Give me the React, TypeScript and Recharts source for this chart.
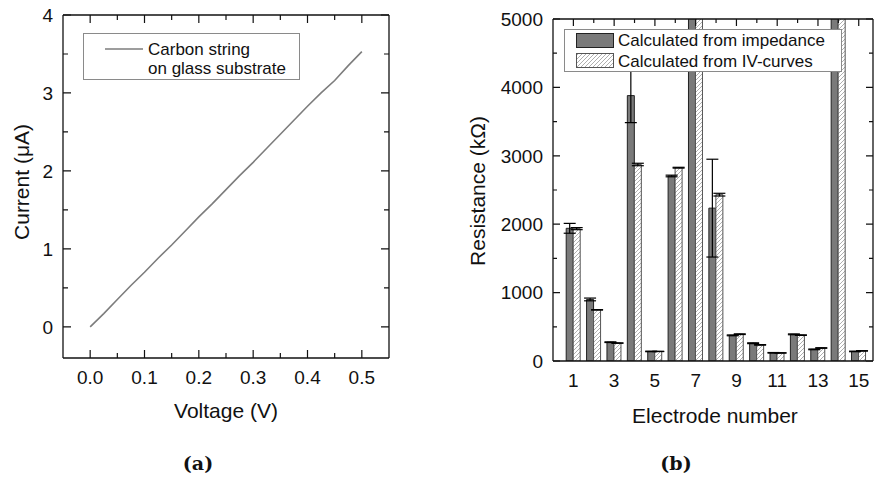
import React from 'react';
import { LineChart, Line, XAxis, YAxis, BarChart, Bar, ErrorBar, ReferenceLine } from 'recharts';

const SANS = '"Liberation Sans", Arial, Helvetica, sans-serif';
const SERIF = '"DejaVu Serif", "Liberation Serif", serif';
const INK = '#111';

// (a) I–V sweep of the carbon string
const voltage = [0, 0.025, 0.05, 0.075, 0.1, 0.125, 0.15, 0.175, 0.2, 0.225, 0.25, 0.275, 0.3, 0.325, 0.35, 0.375, 0.4, 0.425, 0.45, 0.475, 0.5];
const current = [0, 0.17, 0.35, 0.53, 0.7, 0.88, 1.05, 1.23, 1.41, 1.58, 1.76, 1.94, 2.11, 2.29, 2.47, 2.65, 2.83, 3.0, 3.16, 3.35, 3.53];

const voltageMajor = [0, 0.1, 0.2, 0.3, 0.4, 0.5];
const voltageMinor = [0.05, 0.15, 0.25, 0.35, 0.45];
const currentMajor = [0, 1, 2, 3, 4];
const currentMinor = [0.5, 1.5, 2.5, 3.5];

// (b) resistance per electrode (kΩ)
const electrodes = [1, 2, 3, 4, 5, 6, 7, 8, 9, 10, 11, 12, 13, 14, 15];
const fromImpedance = [1940, 900, 275, 3880, 140, 2705, 6000, 2235, 375, 260, 120, 390, 170, 6000, 140];
const fromImpedanceErr = [72, 20, 5, 395, 4, 12, 0, 715, 6, 6, 4, 6, 5, 0, 4];
const fromIV = [1935, 748, 262, 2873, 140, 2826, 6000, 2432, 392, 236, 118, 378, 190, 6000, 148];
const fromIVErr = [15, 3, 3, 18, 2, 6, 0, 20, 5, 4, 3, 4, 4, 0, 3];

const electrodeMajor = [1, 3, 5, 7, 9, 11, 13, 15];
const electrodeMinor = [2, 4, 6, 8, 10, 12, 14];
const resistanceMajor = [0, 1000, 2000, 3000, 4000, 5000];
const resistanceMinor = [500, 1500, 2500, 3500, 4500];

const ivRows = voltage.map((v, k) => ({ v, i: current[k] }));
const resistanceRows = electrodes.map((e, k) => ({
  e,
  imp: fromImpedance[k],
  impErr: fromImpedanceErr[k],
  iv: fromIV[k],
  ivErr: fromIVErr[k],
}));

const frameStroke = { stroke: INK, strokeWidth: 1.3 };
const THIN = 0.01;

function bottomLabel(fmt: (v: number) => string, offset: number) {
  return (props: any) => (
    <text x={props.x} y={props.y + offset} textAnchor="middle" fontFamily={SANS} fontSize={19} fill={INK}>
      {fmt(Number(props.payload.value))}
    </text>
  );
}
function leftLabel(fmt: (v: number) => string, offset: number) {
  return (props: any) => (
    <text x={props.x - offset} y={props.y + 6.8} textAnchor="end" fontFamily={SANS} fontSize={19} fill={INK}>
      {fmt(Number(props.payload.value))}
    </text>
  );
}

// Inward tick marks drawn at the two ends of a reference line spanning the plot.
function xTicks(len: number, bottom: boolean) {
  return (p: any) => {
    const x = Number(p.x1);
    const yTop = Math.min(Number(p.y1), Number(p.y2));
    const yBot = Math.max(Number(p.y1), Number(p.y2));
    const d = `M${x},${yTop}L${x},${yTop + len}` + (bottom ? `M${x},${yBot}L${x},${yBot - len}` : '');
    return <path d={d} stroke={INK} strokeWidth={1.2} fill="none" />;
  };
}
function yTicks(len: number) {
  return (p: any) => {
    const y = Number(p.y1);
    const xL = Math.min(Number(p.x1), Number(p.x2));
    const xR = Math.max(Number(p.x1), Number(p.x2));
    const d = `M${xL},${y}L${xL + len},${y}M${xR},${y}L${xR - len},${y}`;
    return <path d={d} stroke={INK} strokeWidth={1.2} fill="none" />;
  };
}

function IVChart() {
  const xDom: [number, number] = [-0.05, 0.55];
  const yDom: [number, number] = [-0.4, 4];
  return (
    <LineChart width={420} height={480} data={ivRows} margin={{ top: 15, right: 31, bottom: 92, left: 23 }}>
      <XAxis xAxisId="b" dataKey="v" type="number" domain={xDom} ticks={voltageMajor} interval={0} height={30}
        tickSize={0} tickMargin={0} tickLine={false} axisLine={frameStroke} tick={bottomLabel((v) => v.toFixed(1), 26)} />
      <YAxis yAxisId="l" type="number" domain={yDom} ticks={currentMajor} interval={0} width={40}
        tickSize={0} tickMargin={0} tickLine={false} axisLine={frameStroke} tick={leftLabel((v) => String(v), 10)} />
      <XAxis xAxisId="t" mirror orientation="top" type="number" domain={xDom} height={THIN}
        tickLine={false} axisLine={frameStroke} tick={false} />
      <YAxis yAxisId="r" mirror orientation="right" type="number" domain={yDom} width={THIN}
        tickLine={false} axisLine={frameStroke} tick={false} />
      {voltageMajor.map((v) => (
        <ReferenceLine key={`vM${v}`} xAxisId="b" yAxisId="l" x={v} shape={xTicks(8, true)} />
      ))}
      {voltageMinor.map((v) => (
        <ReferenceLine key={`vm${v}`} xAxisId="b" yAxisId="l" x={v} shape={xTicks(5, true)} />
      ))}
      {currentMajor.map((v) => (
        <ReferenceLine key={`iM${v}`} xAxisId="b" yAxisId="l" y={v} shape={yTicks(8)} />
      ))}
      {currentMinor.map((v) => (
        <ReferenceLine key={`im${v}`} xAxisId="b" yAxisId="l" y={v} shape={yTicks(5)} />
      ))}
      <Line
        xAxisId="b"
        yAxisId="l"
        dataKey="i"
        type="linear"
        stroke="#7d7d7d"
        strokeWidth={1.6}
        dot={false}
        isAnimationActive={false}
      />
    </LineChart>
  );
}

function ResistanceChart() {
  const xDom: [number, number] = [0, 15.7];
  const yDom: [number, number] = [0, 5000];
  return (
    <BarChart
      width={434}
      height={480}
      data={resistanceRows}
      barSize={7}
      barGap={0}
      margin={{ top: 19, right: 1, bottom: 89, left: 73 }}
    >
      <XAxis xAxisId="b" dataKey="e" type="number" domain={xDom} ticks={electrodeMajor} interval={0} height={30}
        tickSize={0} tickMargin={0} tickLine={false} axisLine={frameStroke} tick={bottomLabel((v) => String(v), 26)} />
      <YAxis yAxisId="l" type="number" domain={yDom} allowDataOverflow ticks={resistanceMajor} interval={0} width={40}
        tickSize={0} tickMargin={0} tickLine={false} axisLine={frameStroke} tick={leftLabel((v) => String(v), 10)} />
      <XAxis xAxisId="t" mirror orientation="top" type="number" domain={xDom} height={THIN}
        tickLine={false} axisLine={frameStroke} tick={false} />
      <YAxis yAxisId="r" mirror orientation="right" type="number" domain={yDom} width={THIN}
        tickLine={false} axisLine={frameStroke} tick={false} />
      {electrodeMajor.map((v) => (
        <ReferenceLine key={`eM${v}`} xAxisId="b" yAxisId="l" x={v} shape={xTicks(7, false)} />
      ))}
      {electrodeMinor.map((v) => (
        <ReferenceLine key={`em${v}`} xAxisId="b" yAxisId="l" x={v} shape={xTicks(4, false)} />
      ))}
      {resistanceMajor.map((v) => (
        <ReferenceLine key={`rM${v}`} xAxisId="b" yAxisId="l" y={v} shape={yTicks(7)} />
      ))}
      {resistanceMinor.map((v) => (
        <ReferenceLine key={`rm${v}`} xAxisId="b" yAxisId="l" y={v} shape={yTicks(4)} />
      ))}
      <Bar xAxisId="b" yAxisId="l" dataKey="imp" fill="#7a7a7a" stroke="#222" strokeWidth={1} isAnimationActive={false}>
        <ErrorBar dataKey="impErr" width={6} stroke="#000" strokeWidth={1.2} direction="y" />
      </Bar>
      <Bar xAxisId="b" yAxisId="l" dataKey="iv" fill="url(#ivHatch)" stroke="#555" strokeWidth={1} isAnimationActive={false}>
        <ErrorBar dataKey="ivErr" width={6} stroke="#000" strokeWidth={1.2} direction="y" />
      </Bar>
    </BarChart>
  );
}

export default function App() {
  return (
    <div style={{ position: 'absolute', left: 0, top: 0, width: 874, height: 480, background: '#fff', overflow: 'hidden' }}>
      <svg width={0} height={0} style={{ position: 'absolute' }}>
        <defs>
          <pattern id="ivHatch" patternUnits="userSpaceOnUse" width={4} height={4}>
            <rect width={4} height={4} fill="#fff" />
            <path d="M-1,1 l2,-2 M0,4 l4,-4 M3,5 l2,-2" stroke="#9a9a9a" strokeWidth={0.8} />
          </pattern>
        </defs>
      </svg>

      <div style={{ position: 'absolute', left: 0, top: 0 }}>
        <IVChart />
      </div>
      <div style={{ position: 'absolute', left: 440, top: 0 }}>
        <ResistanceChart />
      </div>

      {/* legends, axis titles and panel captions */}
      <svg width={874} height={480} style={{ position: 'absolute', left: 0, top: 0, pointerEvents: 'none' }}>
        <rect x={83.5} y={33.5} width={216} height={46} fill="#fff" stroke="#8a8a8a" strokeWidth={1} />
        <line x1={105} y1={49} x2={143} y2={49} stroke="#7d7d7d" strokeWidth={1.6} />
        <text x={148} y={55} fontFamily={SANS} fontSize={17} fill={INK}>Carbon string</text>
        <text x={148} y={74} fontFamily={SANS} fontSize={17} fill={INK}>on glass substrate</text>

        <rect x={564.5} y={29.5} width={277} height={42} fill="#fff" stroke="#8a8a8a" strokeWidth={1} />
        <rect x={576.5} y={33.5} width={37} height={14} fill="#7a7a7a" stroke="#222" strokeWidth={1} />
        <rect x={576.5} y={53.5} width={37} height={14} fill="url(#ivHatch)" stroke="#555" strokeWidth={1} />
        <text x={618} y={46} fontFamily={SANS} fontSize={17} fill={INK}>Calculated from impedance</text>
        <text x={618} y={67} fontFamily={SANS} fontSize={17} fill={INK}>Calculated from IV-curves</text>

        <text x={226} y={418} textAnchor="middle" fontFamily={SANS} fontSize={21} fill={INK}>Voltage (V)</text>
        <g transform="translate(21,182) rotate(-90)">
          <text x={0} y={7.5} textAnchor="middle" fontFamily={SANS} fontSize={21} fill={INK}>Current (μA)</text>
        </g>
        <text x={715} y={423} textAnchor="middle" fontFamily={SANS} fontSize={21} fill={INK}>Electrode number</text>
        <g transform="translate(477,191) rotate(-90)">
          <text x={0} y={7.5} textAnchor="middle" fontFamily={SANS} fontSize={21} fill={INK}>Resistance (kΩ)</text>
        </g>
        <text x={198} y={470} textAnchor="middle" fontFamily={SERIF} fontWeight="bold" fontSize={19} fill={INK}>(a)</text>
        <text x={676} y={470} textAnchor="middle" fontFamily={SERIF} fontWeight="bold" fontSize={19} fill={INK}>(b)</text>
      </svg>
    </div>
  );
}
